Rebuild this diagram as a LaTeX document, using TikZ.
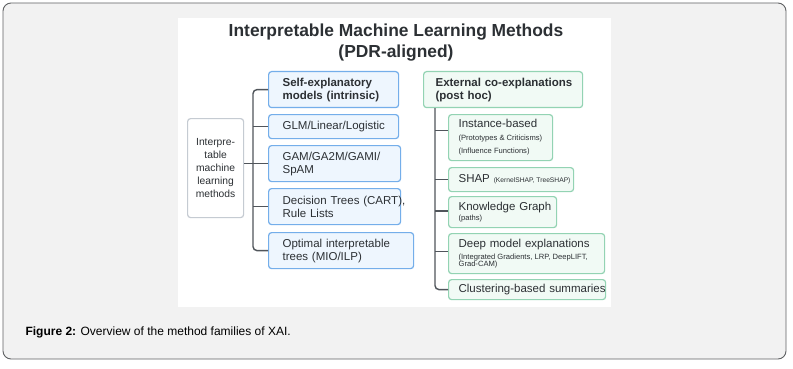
\documentclass[tikz,border=0pt]{standalone}
\usepackage{fontspec}
\setmainfont{Liberation Sans}
\usetikzlibrary{positioning, calc}
\definecolor{panel}{HTML}{F2F2F2}
\definecolor{frameline}{HTML}{5F6163}
\definecolor{ink}{HTML}{2C3034}
\definecolor{tree}{HTML}{50555B}
\definecolor{blueline}{HTML}{74AEEA}
\definecolor{bluefill}{HTML}{EEF6FE}
\definecolor{greenline}{HTML}{93D3B3}
\definecolor{greenfill}{HTML}{F1FAF5}
\definecolor{rootline}{HTML}{C5CBD2}
\newcommand{\boxfont}{\fontsize{11.5}{13}\selectfont}
\newcommand{\fine}[2][7.6]{{\fontsize{#1}{7.5}\selectfont\spaceskip=0pt #2}}

\begin{document}
\begin{tikzpicture}[x=1pt, y=-1pt,
  box/.style={draw, rounded corners=3, line width=1.2pt, anchor=north west,
              align=left, inner xsep=2pt, inner ysep=0pt, text=ink, font=\boxfont},
  pad/.style={execute at begin node={\leftskip=#1pt\relax}},
  intrbox/.style={box, draw=blueline, fill=bluefill, pad=12},
  posthocbox/.style={box, draw=greenline, fill=greenfill, pad=8},
  rootbox/.style={draw=rootline, fill=white, rounded corners=3, line width=1.2pt,
                  anchor=north west, align=center, inner sep=0pt, text=ink,
                  font=\fontsize{10.3}{12.8}\selectfont},
  branch/.style={draw=tree, line width=1.4pt}]
  \useasboundingbox (0,0) rectangle (793,369);
  % frame and picture panel
  \draw[frameline, fill=panel, rounded corners=8, line width=0.9pt] (3,3) rectangle (786,359);
  \fill[white] (178,18) rectangle (611,307);

  \node[text=ink, font=\fontsize{17.4}{21}\selectfont\bfseries, align=center] (title) at (396,43)
    {Interpretable Machine Learning Methods\\(PDR-aligned)};

  \node[rootbox, minimum width=56, minimum height=99] (root) at (187,118)
    {Interpre-\\table\\machine\\learning\\methods};

  % intrinsic side
  \node[intrbox, minimum width=130, minimum height=36, text width=126, font=\boxfont\bfseries] (self) at (268,71)
    {Self-explanatory\\models (intrinsic)};
  \node[intrbox, minimum width=130, minimum height=24, text width=126] (glm) at (268,114) {GLM/Linear/Logistic};
  \node[intrbox, minimum width=132, minimum height=36, text width=128] (gam) at (268,145) {GAM/GA2M/GAMI/\\SpAM};
  \node[intrbox, minimum width=132, minimum height=36, text width=128] (dt) at (268,188) {\mbox{Decision Trees (CART),}\\Rule Lists};
  \node[intrbox, minimum width=145, minimum height=36, text width=141] (oit) at (268,232) {Optimal interpretable\\trees (MIO/ILP)};

  % post hoc side
  \node[posthocbox, pad=10, minimum width=159, minimum height=36, text width=155, font=\boxfont\bfseries] (ext) at (423,71)
    {\mbox{External co-explanations}\\(post hoc)};
  \node[posthocbox, minimum width=104, minimum height=46, text width=100] (inst) at (448,114)
    {Instance-based\\\fine{(Prototypes \& Criticisms)}\\\fine{(Influence Functions)}};
  \node[posthocbox, minimum width=125, minimum height=24, text width=121] (shap) at (448,167)
    {\mbox{SHAP \fine[6.7]{(KernelSHAP, TreeSHAP)}}};
  \node[posthocbox, minimum width=108, minimum height=31, text width=104] (kg) at (448,196)
    {Knowledge Graph\\[-3pt]\fine{(paths)}};
  \node[posthocbox, minimum width=156, minimum height=40, text width=152] (deep) at (448,233)
    {Deep model explanations\\[-1pt]\fine{(Integrated Gradients, LRP, DeepLIFT,}\\[-5.5pt]\fine{Grad-CAM)}};
  \node[posthocbox, minimum width=157, minimum height=20, text width=153] (clus) at (448,279)
    {\mbox{Clustering-based summaries}};

  \node[anchor=west, text=black, font=\fontsize{12}{14}\selectfont] (caption) at (22,332)
    {\textbf{Figure 2:} Overview of the method families of XAI.};

  % tree lines
  \coordinate (lspine) at (253,0);
  \coordinate (rspine) at (435,0);
  \draw[branch, rounded corners=4] (self.west) -| (oit.west -| lspine) -- (oit.west);
  \foreach \n in {glm, gam, dt}
    \draw[branch] (\n.west) -- (\n.west -| lspine);
  \draw[branch] (root.east |- gam.west) -- (gam.west -| lspine);
  \draw[branch, rounded corners=4] (ext.south -| rspine) |- (clus.west);
  \foreach \n/\s in {inst/7, shap/0, kg/1, deep/2}
    \draw[branch] ([yshift=\s pt]\n.west) -- ([yshift=\s pt]\n.west -| rspine);
\end{tikzpicture}
\end{document}
